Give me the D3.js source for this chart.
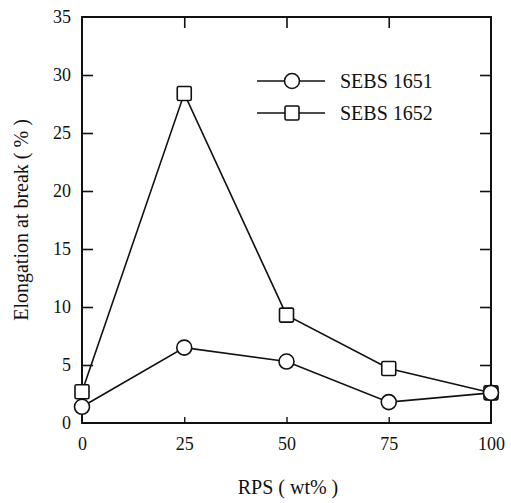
<!DOCTYPE html>
<html>
<head>
<meta charset="utf-8">
<script src="https://cdn.jsdelivr.net/npm/d3@7"></script>
<style>
  html, body { margin: 0; padding: 0; background: #fff; }
  svg { display: block; }
</style>
</head>
<body>
<div id="chart"></div>
<script>
  // ── Data ──
  const rps      = [0, 25, 50, 75, 100];
  const sebs1651 = [1.4, 6.5, 5.3, 1.8, 2.6];
  const sebs1652 = [2.7, 28.4, 9.3, 4.7, 2.6];
  const xTicks   = [0, 25, 50, 75, 100];
  const yTicks   = [0, 5, 10, 15, 20, 25, 30, 35];
  const seriesNames = ['SEBS 1651', 'SEBS 1652'];

  (() => {
  const W = 511, H = 503;
  const svg = d3.select('#chart').append('svg').attr('width', W).attr('height', H);

  const x = d3.scaleLinear().domain([0, 100]).range([82, 491]);
  const y = d3.scaleLinear().domain([0, 35]).range([423, 17]);
  const pLeft = x(0), pRight = x(100), pTop = y(35), pBottom = y(0);

  const ink = '#111';
  const serif = "'Liberation Serif', 'Times New Roman', serif";

  // Frame
  svg.append('rect')
    .attr('x', pLeft).attr('y', pTop)
    .attr('width', pRight - pLeft).attr('height', pBottom - pTop)
    .attr('fill', 'none').attr('stroke', ink).attr('stroke-width', 2);

  // Left axis: inward ticks + labels
  const yAxis = d3.axisLeft(y).tickValues(yTicks).tickSize(-11).tickPadding(11).tickFormat(d3.format('d'));
  const gy = svg.append('g').attr('transform', `translate(${pLeft},0)`).call(yAxis);
  gy.select('.domain').remove();
  gy.selectAll('.tick line').attr('stroke', ink).attr('stroke-width', 1.6)
    .filter(d => d === 0 || d === 35).remove();
  gy.selectAll('.tick text').attr('font-family', serif).attr('font-size', 18).attr('fill', ink);

  // Right axis: inward ticks
  const gr = svg.append('g').attr('transform', `translate(${pRight},0)`)
    .call(d3.axisRight(y).tickValues(yTicks.slice(1, -1)).tickSize(-11).tickFormat(''));
  gr.select('.domain').remove();
  gr.selectAll('.tick line').attr('stroke', ink).attr('stroke-width', 1.6);

  // Bottom axis
  const gx = svg.append('g').attr('transform', `translate(0,${pBottom})`)
    .call(d3.axisBottom(x).tickValues(xTicks).tickSize(-6).tickPadding(14).tickFormat(d3.format('d')));
  gx.select('.domain').remove();
  gx.selectAll('.tick line').attr('stroke', ink).attr('stroke-width', 1.4)
    .filter(d => d === 0 || d === 100).remove();
  gx.selectAll('.tick text').attr('font-family', serif).attr('font-size', 18).attr('fill', ink);

  // Top axis: inward ticks
  const gt = svg.append('g').attr('transform', `translate(0,${pTop})`)
    .call(d3.axisTop(x).tickValues(xTicks.slice(1, -1)).tickSize(-11).tickFormat(''));
  gt.select('.domain').remove();
  gt.selectAll('.tick line').attr('stroke', ink).attr('stroke-width', 1.6);

  // Axis titles
  svg.append('text')
    .attr('transform', 'translate(28,220) rotate(-90)')
    .attr('text-anchor', 'middle')
    .attr('font-family', serif).attr('font-size', 20).attr('fill', ink)
    .text('Elongation at break ( % )');

  svg.append('text')
    .attr('x', 288).attr('y', 494)
    .attr('text-anchor', 'middle')
    .attr('font-family', serif).attr('font-size', 20).attr('fill', ink)
    .text('RPS ( wt% )');

  // Lines
  const line = d3.line().x((d, i) => x(rps[i])).y(d => y(d));
  [sebs1652, sebs1651].forEach(s => {
    svg.append('path').datum(s)
      .attr('d', line).attr('fill', 'none')
      .attr('stroke', ink).attr('stroke-width', 1.6);
  });

  // Markers
  function drawSquare(g, cx, cy) {
    g.append('rect')
      .attr('x', cx - 7).attr('y', cy - 7).attr('width', 14).attr('height', 14)
      .attr('rx', 1.5)
      .attr('fill', '#fff').attr('stroke', ink).attr('stroke-width', 1.6);
  }
  function drawCircle(g, cx, cy) {
    g.append('circle')
      .attr('cx', cx).attr('cy', cy).attr('r', 7.5)
      .attr('fill', '#fff').attr('stroke', ink).attr('stroke-width', 1.6);
  }
  sebs1652.forEach((v, i) => drawSquare(svg, x(rps[i]), y(v)));
  sebs1651.forEach((v, i) => drawCircle(svg, x(rps[i]), y(v)));

  // Legend
  const legend = svg.append('g');
  const legY = [81, 113];
  seriesNames.forEach((name, i) => {
    legend.append('line')
      .attr('x1', 257).attr('x2', 325).attr('y1', legY[i]).attr('y2', legY[i])
      .attr('stroke', ink).attr('stroke-width', 1.6);
    if (i === 0) drawCircle(legend, 292, legY[i]);
    else drawSquare(legend, 292, legY[i]);
    legend.append('text')
      .attr('x', 340).attr('y', legY[i] + 7)
      .attr('font-family', serif).attr('font-size', 20).attr('fill', ink)
      .text(name);
  });
  })();
</script>
</body>
</html>
